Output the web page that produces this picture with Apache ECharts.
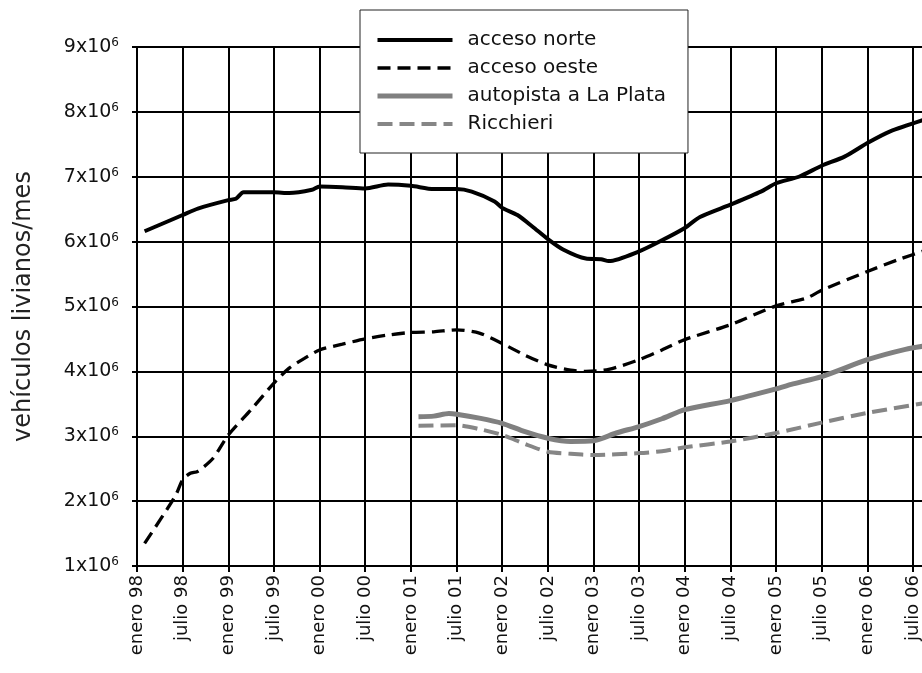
<!DOCTYPE html>
<html>
<head>
<meta charset="utf-8">
<script src="https://cdn.jsdelivr.net/npm/echarts@6/dist/echarts.min.js"></script>
<style>
  body { margin: 0; background: #fff; }
  #main { width: 922px; height: 673px; }
</style>
</head>
<body>
<div id="main"></div>
<script>
  // etiquetas del eje x (cada 6 meses desde enero 98)
  const xLabels = ['enero 98', 'julio 98', 'enero 99', 'julio 99', 'enero 00', 'julio 00',
    'enero 01', 'julio 01', 'enero 02', 'julio 02', 'enero 03', 'julio 03', 'enero 04',
    'julio 04', 'enero 05', 'julio 05', 'enero 06', 'julio 06', 'enero 07'];
  const yTicks = [1, 2, 3, 4, 5, 6, 7, 8, 9];

  // [mes desde enero 98, vehiculos en millones]
  const accesoNorte = [[1, 6.16], [6, 6.41], [8, 6.51], [12, 6.64], [13, 6.66], [14, 6.76], [18, 6.76],
    [20, 6.75], [23, 6.80], [24, 6.85], [27, 6.84], [30, 6.82], [33, 6.88], [36, 6.86], [39, 6.81],
    [42, 6.81], [44, 6.77], [47, 6.62], [48, 6.52], [50, 6.41], [52, 6.23], [54, 6.04], [56, 5.88],
    [59, 5.74], [61, 5.73], [62, 5.70], [66, 5.85], [69, 6.02], [72, 6.21], [74, 6.38], [78, 6.57],
    [82, 6.77], [84, 6.90], [87, 7.00], [90, 7.17], [93, 7.31], [96, 7.52], [99, 7.70], [104, 7.90]];
  const accesoOeste = [[1, 1.35], [5, 2.07], [6, 2.33], [7, 2.43], [8, 2.46], [10, 2.66], [12, 3.02],
    [15, 3.41], [18, 3.82], [20, 4.05], [22, 4.20], [24, 4.33], [27, 4.42], [30, 4.50], [33, 4.56],
    [36, 4.60], [39, 4.61], [42, 4.64], [45, 4.59], [48, 4.43], [51, 4.25], [54, 4.10], [57, 4.02],
    [59, 4.00], [62, 4.03], [66, 4.18], [69, 4.33], [72, 4.49], [78, 4.72], [84, 5.01], [88, 5.13],
    [90, 5.25], [96, 5.54], [100, 5.72], [104, 5.88]];
  const autopistaLaPlata = [[37, 3.30], [39, 3.31], [41, 3.35], [42, 3.34], [45, 3.28], [48, 3.20],
    [51, 3.07], [54, 2.97], [57, 2.92], [60, 2.93], [63, 3.05], [66, 3.15], [69, 3.27], [72, 3.41],
    [78, 3.55], [84, 3.73], [86, 3.80], [90, 3.92], [96, 4.18], [101, 4.34], [104, 4.40]];
  const ricchieri = [[37, 3.16], [42, 3.17], [45, 3.11], [48, 3.02], [51, 2.88], [54, 2.76], [57, 2.73],
    [60, 2.71], [66, 2.74], [69, 2.77], [72, 2.83], [78, 2.92], [84, 3.05], [90, 3.21], [96, 3.36],
    [104, 3.52]];

  const font = 'DejaVu Sans';
  let chart = echarts.init(document.getElementById('main'));

  let option = {
    animation: false,
    backgroundColor: '#fff',
    textStyle: { fontFamily: font, color: '#111' },
    // el grafico original esta cortado a la derecha: el eje sigue hasta enero 07
    grid: {
      left: 137,
      top: 47,
      height: 519,
      width: 108 * 7.608,
      outerBoundsMode: 'none',
      containLabel: false
    },
    legend: {
      orient: 'vertical',
      left: 360,
      top: 10,
      padding: [20, 22, 19, 15],
      itemWidth: 75,
      itemHeight: 20,
      itemGap: 8,
      backgroundColor: '#fff',
      borderColor: '#222',
      borderWidth: 1,
      lineStyle: { width: 'inherit' },
      itemStyle: { opacity: 0 },
      textStyle: { fontFamily: font, fontSize: 20, color: '#111', padding: [0, 0, 0, 10] },
      data: ['acceso norte', 'acceso oeste', 'autopista a La Plata', 'Ricchieri']
    },
    xAxis: {
      type: 'value',
      min: 0,
      max: 108,
      interval: 6,
      axisLine: { lineStyle: { color: '#000', width: 2 } },
      axisTick: { show: true, length: 6, lineStyle: { color: '#000', width: 2 } },
      splitLine: { show: true, lineStyle: { color: '#000', width: 2 } },
      axisLabel: {
        rotate: 90,
        margin: 9,
        fontFamily: font,
        fontSize: 18,
        color: '#111',
        formatter: function (v) {
          return xLabels[v / 6];
        }
      }
    },
    yAxis: {
      type: 'value',
      min: yTicks[0],
      max: yTicks[yTicks.length - 1],
      interval: 1,
      name: 'vehículos livianos/mes',
      nameLocation: 'middle',
      nameRotate: 90,
      nameGap: 101,
      nameTextStyle: { fontFamily: font, fontSize: 24, color: '#222' },
      axisLine: { show: true, lineStyle: { color: '#000', width: 2 } },
      axisTick: { show: true, length: 5, lineStyle: { color: '#000', width: 2 } },
      splitLine: { show: true, lineStyle: { color: '#000', width: 2 } },
      axisLabel: {
        margin: 18,
        formatter: function (v) {
          return '{a|' + v + 'x10}{s|6}';
        },
        rich: {
          a: { fontFamily: font, fontSize: 19, color: '#111', lineHeight: 20 },
          s: { fontFamily: font, fontSize: 12, color: '#111', verticalAlign: 'top', lineHeight: 12 }
        }
      }
    },
    series: [
      {
        name: 'acceso norte',
        type: 'line',
        data: accesoNorte,
        symbol: 'none',
        smooth: 0.25,
        lineStyle: { color: '#000', width: 4 },
        itemStyle: { color: '#000' }
      },
      {
        name: 'acceso oeste',
        type: 'line',
        data: accesoOeste,
        symbol: 'none',
        smooth: 0.25,
        lineStyle: { color: '#000', width: 3.3, type: [13, 7] },
        itemStyle: { color: '#000' }
      },
      {
        name: 'autopista a La Plata',
        type: 'line',
        data: autopistaLaPlata,
        symbol: 'none',
        smooth: 0.25,
        lineStyle: { color: '#808080', width: 5 },
        itemStyle: { color: '#808080' }
      },
      {
        name: 'Ricchieri',
        type: 'line',
        data: ricchieri,
        symbol: 'none',
        smooth: 0.25,
        lineStyle: { color: '#868686', width: 4, type: [15, 7] },
        itemStyle: { color: '#868686' }
      }
    ]
  };
  chart.setOption(option);
</script>
</body>
</html>
